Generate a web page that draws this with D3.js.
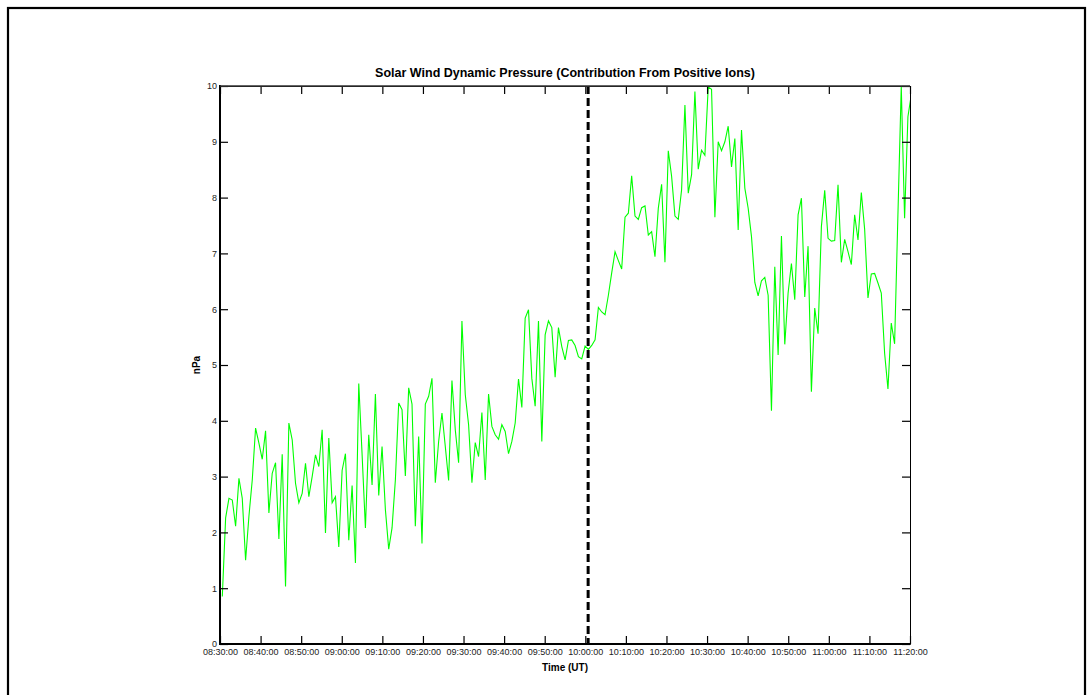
<!DOCTYPE html>
<html>
<head>
<meta charset="utf-8">
<script src="https://cdn.jsdelivr.net/npm/d3@7"></script>
<style>
  body { margin: 0; background: #fff; }
  svg { display: block; font-family: "Liberation Sans", Arial, sans-serif; }
</style>
</head>
<body>
<div id="chart"></div>
<script>
const width = 1092
const height = 695

// sample times: first sample and cadence (seconds)
const startTime = '2000-01-01T08:30:34'
const cadence = 49.2
const eventTime = '2000-01-01T10:00:42'

// dynamic pressure, nPa
const pressure = [
  0.85, 2.26, 2.61, 2.58, 2.11, 2.97, 2.61, 1.50, 2.29, 2.94,
  3.87, 3.60, 3.31, 3.82, 2.35, 3.06, 3.25, 1.88, 3.40, 1.03,
  3.96, 3.66, 2.88, 2.53, 2.70, 3.24, 2.64, 3.00, 3.39, 3.18,
  3.84, 1.99, 3.69, 2.53, 2.64, 1.74, 3.11, 3.41, 1.86, 2.84,
  1.45, 4.67, 3.40, 2.08, 3.75, 2.85, 4.48, 2.66, 3.54, 2.41,
  1.70, 2.08, 2.94, 4.32, 4.20, 3.01, 4.59, 4.30, 2.11, 3.72,
  1.80, 4.30, 4.44, 4.76, 2.89, 3.63, 4.14, 3.54, 2.93, 4.72,
  3.84, 3.25, 5.79, 4.47, 3.93, 2.89, 3.61, 3.36, 4.15, 2.94,
  4.48, 3.90, 3.75, 3.67, 3.93, 3.81, 3.41, 3.63, 3.96, 4.75,
  4.24, 5.84, 5.99, 4.76, 4.26, 5.79, 3.63, 5.54, 5.79, 5.67,
  4.78, 5.67, 5.33, 5.09, 5.44, 5.45, 5.35, 5.15, 5.11, 5.34,
  5.28, 5.35, 5.45, 6.03, 5.95, 5.90, 6.25, 6.65, 7.03, 6.87,
  6.72, 7.65, 7.72, 8.39, 7.67, 7.61, 7.82, 7.85, 7.33, 7.39,
  6.94, 7.81, 8.24, 6.84, 8.84, 8.38, 7.67, 7.61, 8.14, 9.66,
  8.08, 8.41, 9.90, 8.51, 8.85, 8.76, 9.98, 9.94, 7.65, 9.00,
  8.84, 9.00, 9.28, 8.55, 9.06, 7.42, 9.21, 8.17, 7.81, 7.30,
  6.48, 6.24, 6.51, 6.57, 6.25, 4.18, 6.76, 5.18, 7.31, 5.37,
  6.29, 6.82, 6.17, 7.69, 7.99, 6.22, 7.13, 4.52, 6.02, 5.56,
  7.48, 8.13, 7.27, 7.22, 7.23, 8.23, 6.84, 7.25, 7.03, 6.80,
  7.69, 7.24, 8.09, 7.43, 6.20, 6.63, 6.64, 6.47, 6.29, 5.21,
  4.57, 5.75, 5.38, 7.70, 9.99, 7.63, 9.45, 9.84
]

const yTicks = [0, 1, 2, 3, 4, 5, 6, 7, 8, 9, 10]
const titleText = 'Solar Wind Dynamic Pressure (Contribution From Positive Ions)'
const xLabel = 'Time (UT)'
const yLabel = 'nPa'

const t0 = new Date(startTime)
const data = pressure.map((v, i) => ({t: new Date(t0.getTime() + i * cadence * 1000), v}))

const margin = {top: 86, right: 182, bottom: 51, left: 220}
const x = d3.scaleTime()
  .domain([new Date('2000-01-01T08:30:00'), new Date('2000-01-01T11:20:00')])
  .range([margin.left, width - margin.right])
const y = d3.scaleLinear().domain([0, 10]).range([height - margin.bottom, margin.top])

const svg = d3.select('#chart').append('svg')
  .attr('width', width)
  .attr('height', height)

// outer frame (bottom edge falls outside the picture)
svg.append('rect')
  .attr('x', 8).attr('y', 8)
  .attr('width', 1077).attr('height', 720)
  .attr('fill', 'none').attr('stroke', '#000').attr('stroke-width', 2.2)

svg.append('defs').append('clipPath').attr('id', 'clip')
  .append('rect')
  .attr('x', x.range()[0]).attr('y', y.range()[1])
  .attr('width', x.range()[1] - x.range()[0])
  .attr('height', y.range()[0] - y.range()[1])

const xTicks = d3.timeMinute.every(10).range(x.domain()[0], d3.timeMinute.offset(x.domain()[1], 1))
const fmt = d3.timeFormat('%H:%M:%S')

// data line
svg.append('path')
  .datum(data)
  .attr('clip-path', 'url(#clip)')
  .attr('fill', 'none')
  .attr('stroke', '#00ff00')
  .attr('stroke-width', 1.1)
  .attr('d', d3.line().x(d => x(d.t)).y(d => y(d.v)))

// event marker
const ex = x(new Date(eventTime))
svg.append('line')
  .attr('x1', ex).attr('x2', ex)
  .attr('y1', y(10)).attr('y2', y(0))
  .attr('stroke', '#000').attr('stroke-width', 3)
  .attr('stroke-dasharray', '8,4')

// axes
const tickLen = 8
svg.append('g')
  .attr('transform', `translate(0,${y(0)})`)
  .call(d3.axisBottom(x).tickValues(xTicks).tickFormat(fmt).tickSizeInner(-tickLen).tickSizeOuter(0).tickPadding(5))
svg.append('g')
  .attr('transform', `translate(0,${y(10)})`)
  .call(d3.axisTop(x).tickValues(xTicks).tickFormat('').tickSizeInner(-tickLen).tickSizeOuter(0))
svg.append('g')
  .attr('transform', `translate(${x.range()[0]},0)`)
  .call(d3.axisLeft(y).tickValues(yTicks).tickSizeInner(-tickLen).tickSizeOuter(0).tickPadding(3))
svg.append('g')
  .attr('transform', `translate(${x.range()[1]},0)`)
  .call(d3.axisRight(y).tickValues(yTicks).tickFormat('').tickSizeInner(-tickLen).tickSizeOuter(0))

svg.selectAll('.tick line').attr('stroke', '#000').attr('stroke-width', 1.2)
svg.selectAll('.domain').attr('stroke', '#000').attr('stroke-width', 1)
svg.selectAll('.tick text').attr('fill', '#222').style('font-size', '9px')
  .style('font-family', '"Liberation Sans", Arial, sans-serif')

// heavier left and bottom spines
svg.append('line')
  .attr('x1', x.range()[0]).attr('x2', x.range()[0])
  .attr('y1', y(10) - 1).attr('y2', y(0) + 1)
  .attr('stroke', '#000').attr('stroke-width', 2)
svg.append('line')
  .attr('x1', x.range()[0] - 1).attr('x2', x.range()[1])
  .attr('y1', y(0)).attr('y2', y(0))
  .attr('stroke', '#000').attr('stroke-width', 2)
svg.append('line')
  .attr('x1', x.range()[0]).attr('x2', x.range()[1])
  .attr('y1', y(10)).attr('y2', y(10))
  .attr('stroke', '#333').attr('stroke-width', 1.6)

// labels
svg.append('text')
  .attr('x', (x.range()[0] + x.range()[1]) / 2).attr('y', 77)
  .attr('text-anchor', 'middle')
  .style('font-size', '12.5px').style('font-weight', 'bold')
  .text(titleText)

svg.append('text')
  .attr('x', (x.range()[0] + x.range()[1]) / 2).attr('y', 671)
  .attr('text-anchor', 'middle')
  .style('font-size', '10px').style('font-weight', 'bold')
  .text(xLabel)

svg.append('text')
  .attr('transform', `translate(200,${(y(0) + y(10)) / 2}) rotate(-90)`)
  .attr('text-anchor', 'middle')
  .style('font-size', '10px').style('font-weight', 'bold')
  .text(yLabel)
</script>
</body>
</html>
